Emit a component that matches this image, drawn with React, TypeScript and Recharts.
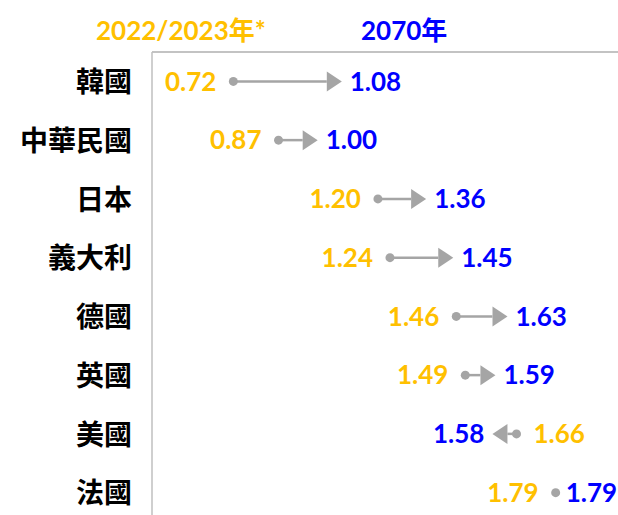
import { Bar, CartesianGrid, ComposedChart, XAxis, YAxis } from 'recharts'

const countries = ['韓國', '中華民國', '日本', '義大利', '德國', '英國', '美國', '法國']
const current = [0.72, 0.87, 1.2, 1.24, 1.46, 1.49, 1.66, 1.79]
const future2070 = [1.08, 1.0, 1.36, 1.45, 1.63, 1.59, 1.58, 1.79]

const data = countries.map((name, i) => ({ name, start: current[i], end: future2070[i] }))

const YELLOW = '#FFC000'
const BLUE = '#0000FF'
const GREY = '#A5A5A5'
const BORDER = '#BFBFBF'
const NUM_FONT = "Lato, 'Noto Sans CJK TC', sans-serif"

function ArrowShape(props: any) {
  const { x, y, width, height, payload } = props
  const cy = y + height / 2
  const a = Math.min(x, x + width)
  const b = Math.max(x, x + width)
  const forward = payload.end >= payload.start
  const sx = forward ? a : b
  const ex = forward ? b : a
  const dir = forward ? 1 : -1
  const len = Math.abs(ex - sx)
  const head = 15
  const fmt = (v: number) => v.toFixed(2)
  return (
    <g>
      {len > 1 && (
        <>
          <line x1={sx} y1={cy} x2={ex - dir * head} y2={cy} stroke={GREY} strokeWidth={2.5} />
          <polygon points={`${ex},${cy} ${ex - dir * head},${cy - 10} ${ex - dir * head},${cy + 10}`} fill={GREY} />
        </>
      )}
      <circle cx={sx} cy={cy} r={4.5} fill={GREY} />
      <text
        x={sx - dir * 17}
        y={cy}
        dy="0.36em"
        textAnchor={forward ? 'end' : 'start'}
        fill={YELLOW}
        fontFamily={NUM_FONT}
        fontWeight={700}
        fontSize={26}
      >
        {fmt(payload.start)}
      </text>
      <text
        x={len > 1 ? ex + dir * 8 : ex + 10}
        y={cy}
        dy="0.36em"
        textAnchor={forward ? 'start' : 'end'}
        fill={BLUE}
        fontFamily={NUM_FONT}
        fontWeight={700}
        fontSize={26}
      >
        {fmt(payload.end)}
      </text>
    </g>
  )
}

function CountryTick(props: any) {
  const { x, y, payload } = props
  return (
    <text
      x={x - 12}
      y={y}
      dy="0.38em"
      textAnchor="end"
      fill="#000"
      fontFamily="'Noto Sans CJK TC', sans-serif"
      fontWeight={700}
      fontSize={28}
    >
      {payload.value}
    </text>
  )
}

const headerStyle = {
  position: 'absolute' as const,
  top: 13,
  fontFamily: NUM_FONT,
  fontWeight: 700,
  fontSize: 26,
  lineHeight: '34px',
}

export default function App() {
  return (
    <div style={{ position: 'absolute', left: 0, top: 0, width: 618, height: 515, overflow: 'hidden', background: '#fff' }}>
      <div style={{ ...headerStyle, left: 96, color: YELLOW }}>2022/2023年*</div>
      <div style={{ ...headerStyle, left: 361, color: BLUE }}>2070年</div>
      <ComposedChart
        width={640}
        height={530}
        data={data}
        layout="vertical"
        margin={{ top: 51, right: 6, bottom: 8, left: 0 }}
      >
        <CartesianGrid
          vertical={false}
          stroke={BORDER}
          strokeWidth={1.5}
          horizontalCoordinatesGenerator={({ offset }: any) => [offset.top]}
        />
        <XAxis
          type="number"
          orientation="top"
          domain={[0.45, 2.05]}
          allowDataOverflow
          tick={false}
          tickLine={false}
          height={1}
          axisLine={{ stroke: BORDER, strokeWidth: 1.5 }}
        />
        <YAxis
          type="category"
          dataKey="name"
          width={152}
          tickLine={false}
          axisLine={{ stroke: BORDER, strokeWidth: 1.5 }}
          tick={<CountryTick />}
          interval={0}
        />
        <Bar dataKey={(d: any) => [d.start, d.end]} shape={<ArrowShape />} isAnimationActive={false} />
      </ComposedChart>
    </div>
  )
}
